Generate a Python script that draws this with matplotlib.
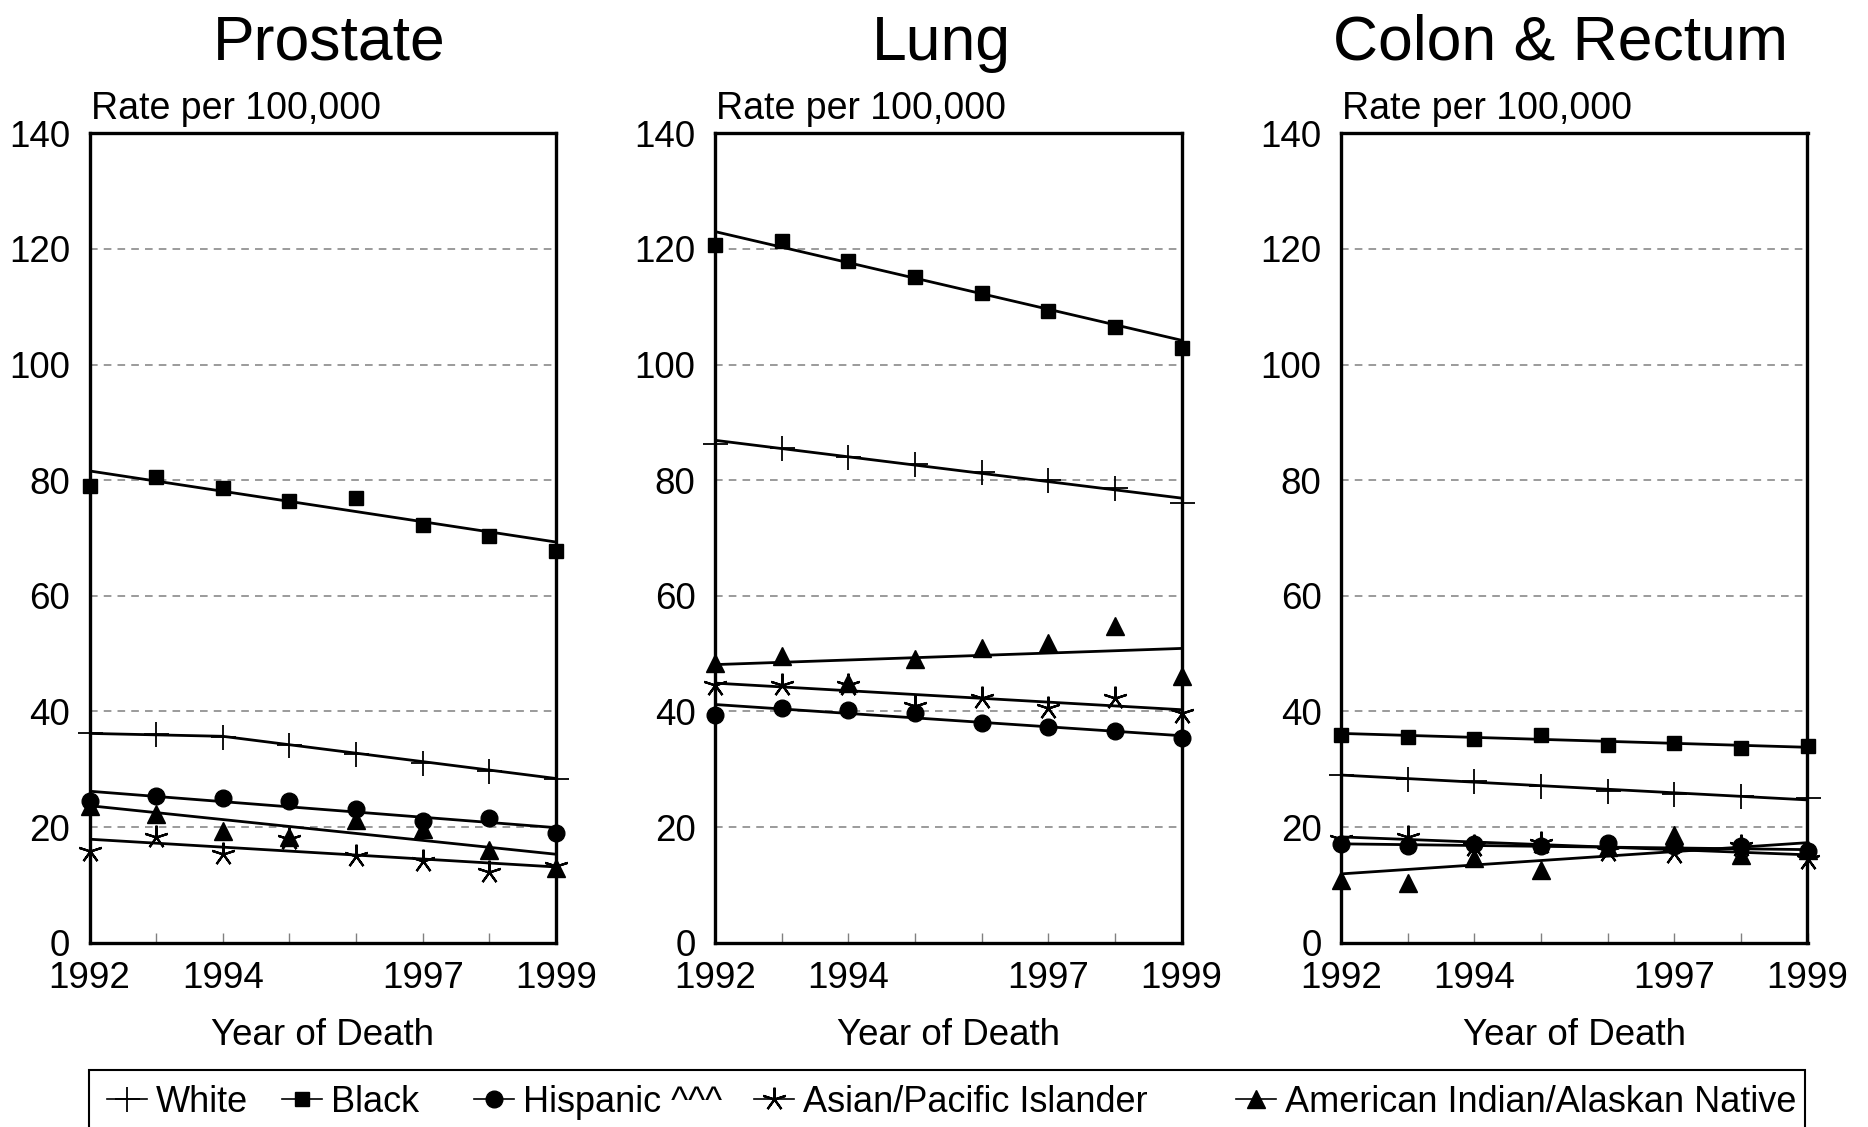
import matplotlib
matplotlib.use('Agg')
import matplotlib.pyplot as plt
from matplotlib.lines import Line2D
from matplotlib.patches import Rectangle

plt.rcParams['font.family'] = ['Liberation Sans', 'DejaVu Sans']

# ---------------- datos ----------------
years = [1992, 1993, 1994, 1995, 1996, 1997, 1998, 1999]
tick_labels = ['1992', '', '1994', '', '', '1997', '', '1999']
titles = ['Prostate', 'Lung', 'Colon & Rectum']
groups = ['White', 'Black', 'Hispanic ^^^', 'Asian/Pacific Islander',
          'American Indian/Alaskan Native']

# Prostate
prostate_white = [36.2, 36.1, 35.5, 34.2, 32.6, 31.0, 29.7, 28.4]
prostate_black = [79.0, 80.6, 78.6, 76.4, 76.9, 72.3, 70.4, 67.7]
prostate_hispanic = [24.5, 25.3, 25.1, 24.5, 23.2, 21.0, 21.5, 19.0]
prostate_asian = [15.8, 18.2, 15.3, 17.9, 15.0, 14.1, 12.3, 13.2]
prostate_aian = [23.7, 22.2, 19.3, 18.2, 21.3, 19.6, 16.1, 12.9]

# Lung
lung_white = [86.2, 85.5, 84.0, 82.8, 81.4, 80.0, 78.7, 76.0]
lung_black = [120.6, 121.3, 117.9, 115.2, 112.3, 109.2, 106.5, 102.8]
lung_hispanic = [39.4, 40.6, 40.2, 39.8, 38.0, 37.3, 36.6, 35.4]
lung_asian = [44.6, 44.6, 44.5, 40.9, 42.3, 40.6, 42.3, 39.7]
lung_aian = [48.4, 49.6, 44.9, 49.1, 51.0, 51.9, 54.8, 46.1]

# Colon & Rectum
colon_white = [29.0, 28.3, 28.0, 27.1, 26.2, 25.7, 25.3, 25.0]
colon_black = [35.9, 35.5, 35.3, 35.9, 34.2, 34.5, 33.6, 34.0]
colon_hispanic = [17.1, 16.7, 17.0, 16.8, 17.3, 16.7, 16.7, 15.9]
colon_asian = [17.9, 18.2, 16.7, 17.3, 15.9, 15.6, 16.7, 14.4]
colon_aian = [10.9, 10.3, 14.7, 12.6, 16.5, 18.7, 15.2, 16.0]

fit_years = [1992, 1999]
prostate_white_fit_years = [1992, 1994, 1999]
prostate_white_fit = [36.2, 35.7, 28.4]
prostate_black_fit = [81.6, 69.3]
prostate_hispanic_fit = [26.2, 19.9]
prostate_asian_fit = [17.9, 13.1]
prostate_aian_fit = [23.7, 15.3]

lung_white_fit = [86.9, 76.9]
lung_black_fit = [123.0, 104.2]
lung_hispanic_fit = [41.2, 35.8]
lung_asian_fit = [44.9, 40.3]
lung_aian_fit = [48.1, 50.9]

colon_white_fit = [29.0, 24.7]
colon_black_fit = [36.2, 33.8]
colon_hispanic_fit = [17.1, 16.1]
colon_asian_fit = [18.3, 15.2]
colon_aian_fit = [11.9, 17.3]

# ---------------- estilos ----------------
markers = [
    dict(marker='+', markersize=18, markeredgewidth=1.3),
    dict(marker='s', markersize=10.5),
    dict(marker='o', markersize=12),
    dict(marker=(5, 2, 0), markersize=17, markeredgewidth=1.6),
    dict(marker='^', markersize=13.5),
]

panels = [
    ([prostate_white, prostate_black, prostate_hispanic, prostate_asian, prostate_aian],
     [(prostate_white_fit_years, prostate_white_fit), (fit_years, prostate_black_fit),
      (fit_years, prostate_hispanic_fit), (fit_years, prostate_asian_fit),
      (fit_years, prostate_aian_fit)]),
    ([lung_white, lung_black, lung_hispanic, lung_asian, lung_aian],
     [(fit_years, lung_white_fit), (fit_years, lung_black_fit),
      (fit_years, lung_hispanic_fit), (fit_years, lung_asian_fit),
      (fit_years, lung_aian_fit)]),
    ([colon_white, colon_black, colon_hispanic, colon_asian, colon_aian],
     [(fit_years, colon_white_fit), (fit_years, colon_black_fit),
      (fit_years, colon_hispanic_fit), (fit_years, colon_asian_fit),
      (fit_years, colon_aian_fit)]),
]

W, H = 1868, 1127
fig = plt.figure(figsize=(W / 100, H / 100), dpi=100)

ax_left = [89.5, 715, 1341]
title_x = [328.8, 941.7, 1560.6]
ax_w = 466.5
ax_top, ax_bot = 133.3, 942.7

for i, (series, fits) in enumerate(panels):
    ax = fig.add_axes([ax_left[i] / W, 1 - ax_bot / H, ax_w / W, (ax_bot - ax_top) / H])

    for (fx, fy) in fits:
        ax.plot(fx, fy, color='black', linewidth=2.0, zorder=3)
    for vals, mk in zip(series, markers):
        ax.plot(years, vals, linestyle='none', color='black', clip_on=False,
                zorder=4, **mk)

    ax.set_xlim(1992, 1999)
    ax.set_ylim(0, 140)
    ax.set_yticks(range(0, 141, 20))
    ax.set_xticks(years)
    ax.set_xticklabels(tick_labels)
    ax.tick_params(axis='x', direction='in', length=7, width=1, color='#808080',
                   labelsize=26.5, pad=13)
    ax.tick_params(axis='y', length=0, labelsize=26.5, pad=14)
    ax.grid(axis='y', color='#808080', linestyle=(0, (5, 4)), linewidth=1.1)
    ax.set_axisbelow(True)
    for sp in ax.spines.values():
        sp.set_linewidth(2.4)
        sp.set_color('black')

    ax.set_xlabel('Year of Death', fontsize=26.5, labelpad=16)
    ax.annotate('Rate per 100,000', xy=(0, 1), xycoords='axes fraction',
                xytext=(1, 10), textcoords='offset points', fontsize=27,
                va='baseline', ha='left')

    fig.text(title_x[i] / W, 1 - 60 / H, titles[i], fontsize=45,
             ha='center', va='baseline')

# ---------------- leyenda ----------------
rect = Rectangle((89 / W, -0.05), (1805 - 89) / W, 0.05 + 1 - 1070 / H,
                 transform=fig.transFigure, fill=False, edgecolor='black',
                 linewidth=1.5, clip_on=False)
fig.add_artist(rect)

legend_x = [107, 282, 474, 754, 1236]
for lbl, mk, lx in zip(groups, markers, legend_x):
    h = Line2D([], [], color='black', linewidth=1.2, **mk)
    fig.legend([h], [lbl], loc='center left', bbox_to_anchor=(lx / W, 1 - 1102 / H),
               frameon=False, fontsize=26, handlelength=1.1, handletextpad=0.25,
               borderpad=0, borderaxespad=0, numpoints=1)

fig.savefig('out.png', dpi=100)
